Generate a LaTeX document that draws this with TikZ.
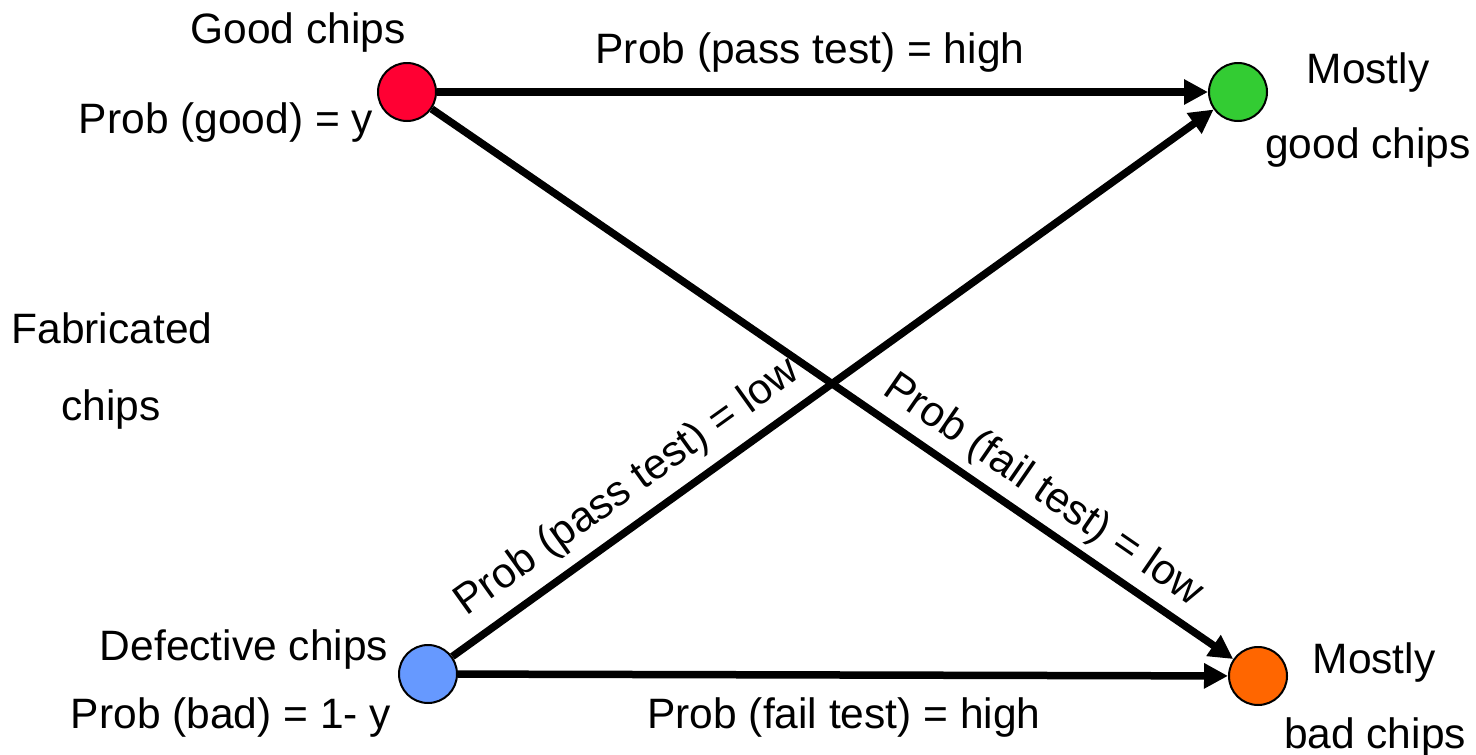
\documentclass[tikz,border=0pt]{standalone}
\usepackage{fontspec}
\setmainfont{Liberation Sans}
\usetikzlibrary{arrows.meta}
\definecolor{chipred}{HTML}{FF0033}
\definecolor{chipgreen}{HTML}{33CC33}
\definecolor{chipblue}{HTML}{6699FF}
\definecolor{chiporange}{HTML}{FF6600}
\tikzset{
  chip/.style={circle, draw=black, line width=2pt, minimum size=58pt, inner sep=0pt},
  lbl/.style={inner sep=0pt, anchor=base, font=\fontsize{42.5}{50}\selectfont},
  rlbl/.style={inner sep=0pt, anchor=center, font=\fontsize{42.5}{50}\selectfont},
  flow/.style={line width=7.5pt, -{Triangle[length=24pt, width=24pt]}}
}
\begin{document}
\begin{tikzpicture}[x=1pt, y=-1pt]
\useasboundingbox (0,0) rectangle (1476,755);

% the four populations of chips
\node[chip, fill=chipred]    (good)  at (407,92)   {};
\node[chip, fill=chipgreen]  (pass)  at (1238,92)  {};
\node[chip, fill=chipblue]   (bad)   at (428,674)  {};
\node[chip, fill=chiporange] (fail)  at (1258,676) {};

% test outcomes
\draw[flow] (good) -- (pass);
\draw[flow] (good) -- (fail);
\draw[flow] (bad)  -- (pass);
\draw[flow] (bad)  -- (fail);

% labels
\node[lbl] (tgood)  at (298,43)  {Good chips};
\node[lbl] (pgood)  at (226,133) {Prob (good) = y};
\node[lbl] (phigh)  at (810,63)  {Prob (pass test) = high};
\node[lbl] (m1)     at (1368,83) {Mostly};
\node[lbl] (m1b)    at (1368,158) {good chips};
\node[lbl] (fab)    at (112,343) {Fabricated};
\node[lbl] (fab2)   at (111,420) {chips};
\node[lbl] (tbad)   at (244,660) {Defective chips};
\node[lbl] (pbad)   at (231,728) {Prob (bad) = 1- y};
\node[lbl] (fhigh)  at (844,728) {Prob (fail test) = high};
\node[lbl] (m2)     at (1374,673) {Mostly};
\node[lbl] (m2b)    at (1375,748) {bad chips};
\node[rlbl, rotate=35.6]  (plow) at (628,488)  {Prob (pass test) = low};
\node[rlbl, rotate=-34.5] (flow) at (1043,491) {Prob (fail test) = low};
\end{tikzpicture}
\end{document}
